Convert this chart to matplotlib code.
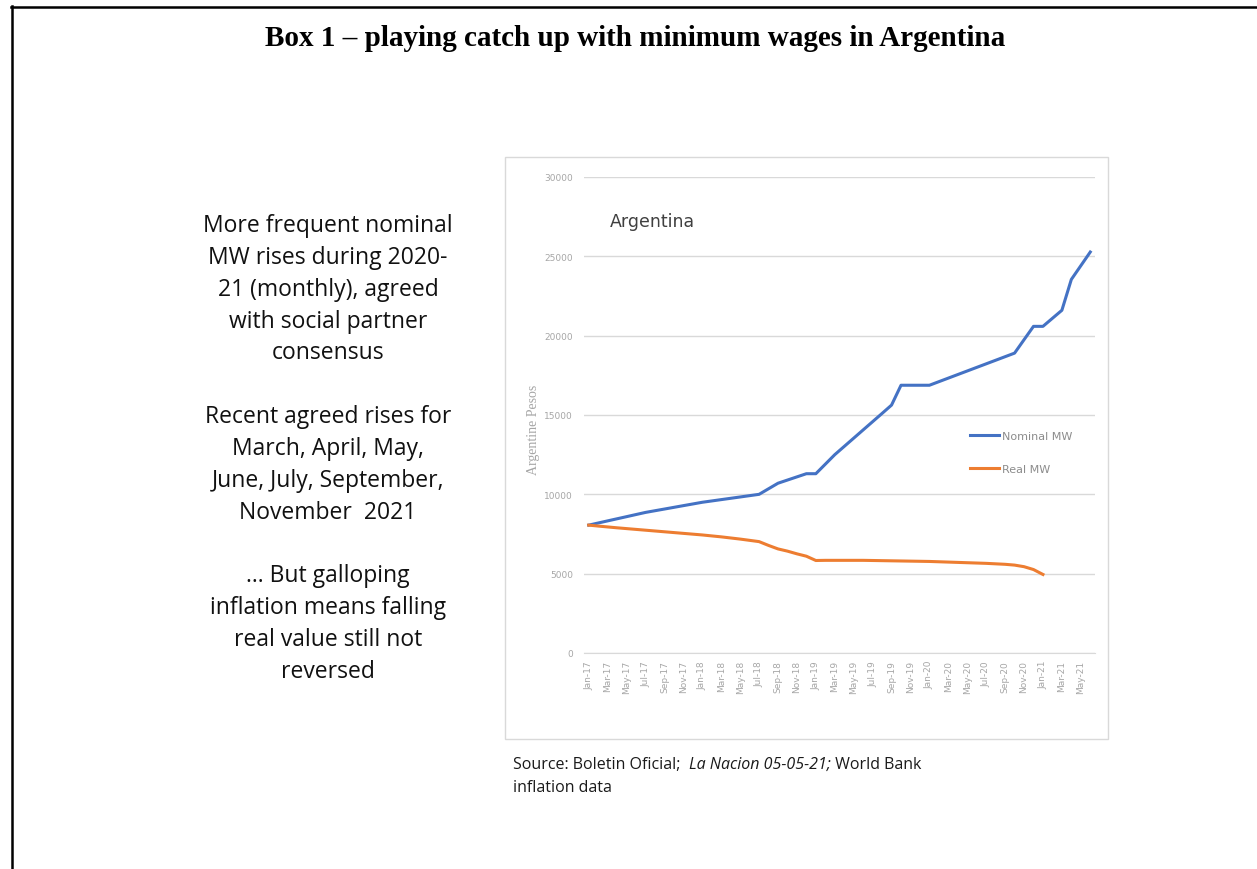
import matplotlib
matplotlib.use("Agg")
import matplotlib.pyplot as plt
from matplotlib import font_manager
from matplotlib.patches import Rectangle
from matplotlib.lines import Line2D

# ---------------- data ----------------
months = ["Jan-17", "Feb-17", "Mar-17", "Apr-17", "May-17", "Jun-17", "Jul-17", "Aug-17", "Sep-17", "Oct-17", "Nov-17", "Dec-17",
          "Jan-18", "Feb-18", "Mar-18", "Apr-18", "May-18", "Jun-18", "Jul-18", "Aug-18", "Sep-18", "Oct-18", "Nov-18", "Dec-18",
          "Jan-19", "Feb-19", "Mar-19", "Apr-19", "May-19", "Jun-19", "Jul-19", "Aug-19", "Sep-19", "Oct-19", "Nov-19", "Dec-19",
          "Jan-20", "Feb-20", "Mar-20", "Apr-20", "May-20", "Jun-20", "Jul-20", "Aug-20", "Sep-20", "Oct-20", "Nov-20", "Dec-20",
          "Jan-21", "Feb-21", "Mar-21", "Apr-21", "May-21", "Jun-21"]

nominal_mw = [8060, 8193, 8327, 8460, 8593, 8727, 8860, 8967, 9073, 9180, 9287, 9393,
              9500, 9583, 9667, 9750, 9833, 9917, 10000, 10350, 10700, 10900, 11100, 11300,
              11300, 11900, 12500, 13020, 13540, 14060, 14580, 15100, 15625, 16875, 16875, 16875,
              16875, 17100, 17325, 17550, 17775, 18000, 18225, 18450, 18675, 18900, 19744, 20587,
              20587, 21094, 21600, 23544, 24408, 25272]

real_mw = [8060, 8000, 7945, 7890, 7840, 7790, 7740, 7690, 7640, 7590, 7540, 7490,
           7440, 7380, 7320, 7250, 7180, 7100, 7020, 6780, 6560, 6420, 6250, 6100,
           5830, 5840, 5840, 5840, 5840, 5840, 5830, 5820, 5810, 5800, 5790, 5780,
           5770, 5750, 5730, 5710, 5690, 5670, 5650, 5620, 5590, 5540, 5440, 5260,
           4950]

y_ticks = [0, 5000, 10000, 15000, 20000, 25000, 30000]

title = "Box 1 \u2013 playing catch up with minimum wages in Argentina"
side_lines = ["More frequent nominal", "MW rises during 2020-", "21 (monthly), agreed", "with social partner",
              "consensus", "",
              "Recent agreed rises for", "March, April, May,", "June, July, September,", "November  2021", "",
              "\u2026 But galloping", "inflation means falling", "real value still not", "reversed"]

# ---------------- fonts ----------------
names = {f.name for f in font_manager.fontManager.ttflist}
body = "Open Sans" if "Open Sans" in names else "DejaVu Sans"

W, H = 1257, 870
fig = plt.figure(figsize=(W / 100, H / 100), dpi=100)

def fx(px):
    return px / W

def fy(py):
    return 1 - py / H

# page frame (top + left rule)
fig.add_artist(Line2D([fx(11), 1.0], [fy(7.5), fy(7.5)], transform=fig.transFigure, color="black", lw=1.8))
fig.add_artist(Line2D([fx(11.5), fx(11.5)], [fy(7), 0.0], transform=fig.transFigure, color="black", lw=1.8))

# title
fig.text(fx(635), fy(39), title, ha="center", va="center", fontsize=21, fontweight="bold",
         family="Liberation Serif", color="black")

# chart box
fig.add_artist(Rectangle((fx(505), fy(740)), fx(1108) - fx(505), fy(158) - fy(740),
                         transform=fig.transFigure, fill=False, edgecolor="#d9d9d9", lw=1.0))

# side text
for i, line in enumerate(side_lines):
    if line:
        fig.text(fx(328), fy(226 + i * 31.85), line, ha="center", va="center", fontsize=16.5,
                 family=body, color="#111111")

# plot axes
left, right, top, bottom = 584, 1095, 178, 654
ax = fig.add_axes([fx(left), fy(bottom), fx(right) - fx(left), fy(top) - fy(bottom)])
x_all = list(range(len(months)))
ax.plot(x_all[:len(nominal_mw)], nominal_mw, color="#4472C4", lw=2.2, solid_joinstyle="round", label="Nominal MW")
ax.plot(x_all[:len(real_mw)], real_mw, color="#ED7D31", lw=2.2, solid_joinstyle="round", label="Real MW")

ax.set_xlim(-0.5, len(months) - 0.5)
ax.set_ylim(0, 30000)
ax.set_yticks(y_ticks)
ax.set_yticklabels([str(v) for v in y_ticks], fontsize=6.5, color="#a6a6a6")
ax.set_xticks(x_all[::2])
ax.set_xticklabels(months[::2], rotation=90, fontsize=6.5, color="#a6a6a6")
ax.tick_params(axis="both", length=0)
ax.tick_params(axis="y", pad=8)
ax.tick_params(axis="x", pad=5)
for s in ["top", "right", "left"]:
    ax.spines[s].set_visible(False)
ax.spines["bottom"].set_color("#d9d9d9")
ax.grid(axis="y", color="#d9d9d9", lw=1.0)
ax.set_axisbelow(True)
ax.patch.set_alpha(0)

# chart inner title
fig.text(fx(610), fy(222), "Argentina", ha="left", va="center", fontsize=12.5, color="#404040")

# y label
fig.text(fx(533), fy(430), "Argentine Pesos", ha="center", va="center", rotation=90, fontsize=10,
         family="Liberation Serif", color="#a6a6a6")

# legend
leg = ax.legend(loc="upper left", bbox_to_anchor=((970 - left) / (right - left), (bottom - 432) / (bottom - top)),
                frameon=False, handlelength=2.6, handletextpad=0.25, labelspacing=2.1, borderpad=0,
                borderaxespad=0, prop={"size": 8})
for t in leg.get_texts():
    t.set_color("#8c8c8c")

# source text (mixed italic)
fs_src = 11.5
t1 = fig.text(fx(513), fy(765), "Source: Boletin Oficial;  ", ha="left", va="center", fontsize=fs_src,
              family=body, color="#1a1a1a")
fig.canvas.draw()
r = fig.canvas.get_renderer()
bb = t1.get_window_extent(r)
t2 = fig.text(bb.x1 / W, fy(765), "La Nacion 05-05-21;", ha="left", va="center", fontsize=fs_src,
              family=body, style="italic", color="#1a1a1a")
fig.canvas.draw()
bb2 = t2.get_window_extent(r)
fig.text(bb2.x1 / W, fy(765), " World Bank", ha="left", va="center", fontsize=fs_src, family=body, color="#1a1a1a")
fig.text(fx(513), fy(788), "inflation data", ha="left", va="center", fontsize=fs_src, family=body, color="#1a1a1a")

fig.savefig("out.png", dpi=100)
